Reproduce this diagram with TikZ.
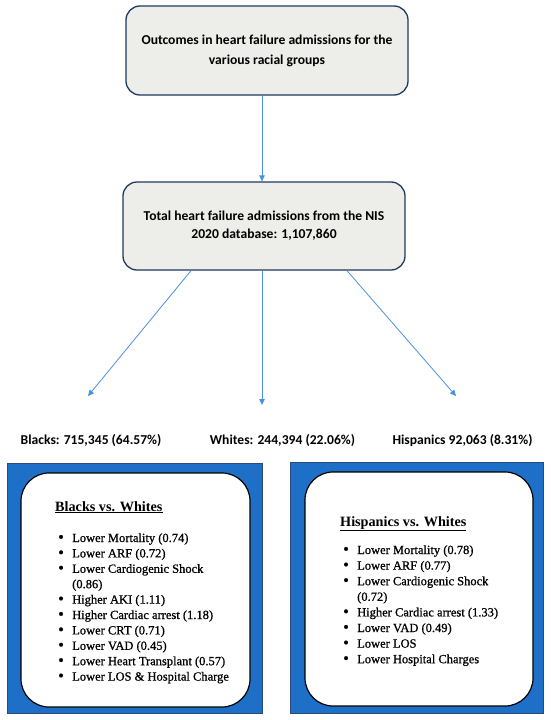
\documentclass[tikz,border=0pt]{standalone}
\usepackage{fontspec}
\setmainfont{Liberation Serif}
\newfontfamily\calib{Carlito}
\newfontfamily\listfont[FakeBold=0.8]{Liberation Serif}
\usetikzlibrary{arrows.meta}
\definecolor{boxfill}{HTML}{EDEDE9}
\definecolor{boxline}{HTML}{1F3A60}
\definecolor{arrowblue}{HTML}{4A90E2}
\definecolor{panelblue}{HTML}{1D6FC8}
\definecolor{panelline}{HTML}{2B4A78}
\newcommand\itm[1]{\makebox[14pt][l]{\raisebox{-0.3pt}{\scalebox{1.3}{\textbullet}}}#1}
\newcommand\cont[1]{\makebox[14pt][l]{}#1}
\begin{document}
\begin{tikzpicture}[x=1pt,y=-1pt,
  topbox/.style={draw=boxline, line width=1.3pt, fill=boxfill, rounded corners=14pt,
    minimum width=282pt, align=center, inner sep=0pt,
    font=\calib\bfseries\fontsize{13.6}{20}\selectfont},
  arr/.style={draw=arrowblue, line width=0.8pt, -{Triangle[length=6pt,width=5.5pt]}},
  grp/.style={font=\calib\bfseries\fontsize{13.6}{15}\selectfont, anchor=base, inner sep=0pt},
  panel/.style={fill=panelblue, draw=panelline, line width=0.6pt},
  innerbox/.style={fill=white, draw=black, line width=1.2pt, rounded corners=28pt},
  listtxt/.style={font=\listfont\fontsize{12.5}{15.4}\selectfont, inner sep=0pt, anchor=base west},
  ttl/.style={font=\bfseries\fontsize{14.2}{15}\selectfont, inner sep=0pt, anchor=base west}
]
\useasboundingbox (0,0) rectangle (550,720);
\fill[white] (0,0) rectangle (550,720);

% top boxes
\node[topbox, minimum height=89pt] (b1) at (267,50.5)
  {Outcomes in heart failure admissions for the\\various racial groups};
\node[topbox, minimum height=88pt, font=\calib\bfseries\fontsize{13.6}{18}\selectfont] (b2) at (264,226)
  {Total heart failure admissions from the NIS\\2020 database: 1,107,860};

% connector coordinates
\coordinate (sB) at (191,0);
\coordinate (sH) at (347,0);
\coordinate (tB) at (88,396);
\coordinate (tW) at (262,405);
\coordinate (tH) at (456,396);

\draw[arr] (b1.south -| tW) -- (b2.north -| tW);
\draw[arr] (b2.south -| sB) -- (tB);
\draw[arr] (b2.south -| tW) -- (tW);
\draw[arr] (b2.south -| sH) -- (tH);

% group labels
\node[grp] (lB) at (91,444) {Blacks: 715,345 (64.57\%)};
\node[grp] (lW) at (282.5,444) {Whites: 244,394 (22.06\%)};
\node[grp] (lH) at (462.5,444) {Hispanics 92,063 (8.31\%)};

% left panel
\draw[panel] (7,463) rectangle (262,713);
\draw[innerbox] (21,473) rectangle (250,707);
\node[ttl] (tBW) at (55,511) {\underline{Blacks vs. Whites}};
\node[listtxt] (listB) at (58,542) {\begin{tabular}[t]{@{}l@{}}
\itm{Lower Mortality (0.74)}\\
\itm{Lower ARF (0.72)}\\
\itm{Lower Cardiogenic Shock}\\
\cont{(0.86)}\\
\itm{Higher AKI (1.11)}\\
\itm{Higher Cardiac arrest (1.18)}\\
\itm{Lower CRT (0.71)}\\
\itm{Lower VAD (0.45)}\\
\itm{Lower Heart Transplant (0.57)}\\
\itm{Lower LOS \& Hospital Charge}
\end{tabular}};

% right panel
\draw[panel] (290,462) rectangle (543,713);
\draw[innerbox] (305,472) rectangle (533,706);
\node[ttl] (tHW) at (340,526) {\underline{Hispanics vs. Whites}};
\node[listtxt, font=\listfont\fontsize{12.5}{15.6}\selectfont] (listH) at (343,554) {\begin{tabular}[t]{@{}l@{}}
\itm{Lower Mortality (0.78)}\\
\itm{Lower ARF (0.77)}\\
\itm{Lower Cardiogenic Shock}\\
\cont{(0.72)}\\
\itm{Higher Cardiac arrest (1.33)}\\
\itm{Lower VAD (0.49)}\\
\itm{Lower LOS}\\
\itm{Lower Hospital Charges}
\end{tabular}};
\end{tikzpicture}
\end{document}
